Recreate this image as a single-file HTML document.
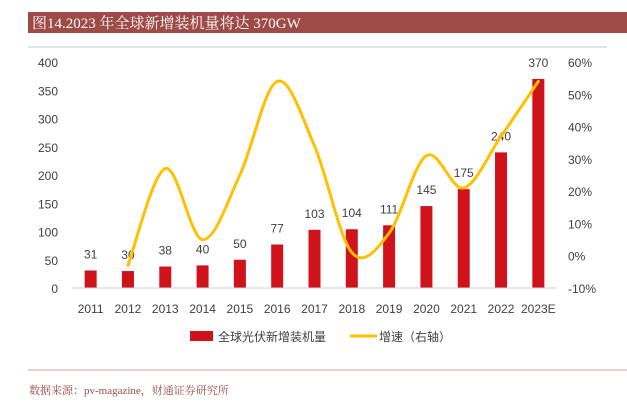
<!DOCTYPE html>
<html><head><meta charset="utf-8">
<style>
body{margin:0;width:627px;height:409px;background:#fff;overflow:hidden;font-family:"Liberation Sans","Noto Sans CJK SC",sans-serif;}
</style></head>
<body>
<svg width="627" height="409" xmlns="http://www.w3.org/2000/svg">
<rect x="28" y="12" width="599" height="21" fill="#9e4a46"/>
<text x="32" y="28" font-size="15" fill="#fff" font-family="Liberation Serif,Noto Serif CJK SC,serif">图14.2023 年全球新增装机量将达 370GW</text>
<line x1="28" y1="47" x2="607" y2="47" stroke="#c8c8c8"/>
<g id="plot"></g>
<line x1="28" y1="370" x2="627" y2="370" stroke="#c9a0a0"/>
<text x="29" y="394" font-size="11" fill="#9e4a46" font-family="Liberation Serif,Noto Serif CJK SC,serif">数据来源：pv-magazine，财通证券研究所</text>
</svg>
<script>
const categories=["2011","2012","2013","2014","2015","2016","2017","2018","2019","2020","2021","2022","2023E"];
const capacity=[31,30,38,40,50,77,103,104,111,145,175,240,370];
const growth=[null,-3,27,5,25,54,34,1,7,31,21,37,54];
const leftTicks=[0,50,100,150,200,250,300,350,400];
const rightTicks=[-10,0,10,20,30,40,50,60];
const NS="http://www.w3.org/2000/svg";
const g=document.getElementById('plot');
const x0=72,x1=557,yb=288,yt=62;
const step=(x1-x0)/categories.length;
const xc=i=>x0+step*(i+0.5);
const yL=v=>yb-(v/400)*(yb-yt);
const yR=v=>yb-((v+10)/70)*(yb-yt);
function mk(t,a){const e=document.createElementNS(NS,t);for(const k in a)e.setAttribute(k,a[k]);g.appendChild(e);return e;}
leftTicks.forEach(v=>{const t=mk('text',{x:58,y:yL(v)+5,'text-anchor':'end','font-size':12,fill:'#404040'});t.textContent=v;

});
rightTicks.forEach(v=>{const t=mk('text',{x:568,y:yR(v)+5,'font-size':12,fill:'#404040'});t.textContent=v+'%';

});
capacity.forEach((v,i)=>{
const r=mk('rect',{x:xc(i)-6,y:yL(v),width:12,height:yb-yL(v),fill:'#d0121b'});


const t=mk('text',{x:xc(i),y:yL(v)-12,'text-anchor':'middle','font-size':12,fill:'#404040'});t.textContent=v;


const c=mk('text',{x:xc(i),y:313,'text-anchor':'middle','font-size':12,fill:'#404040'});c.textContent=categories[i];


});
const ax=mk('line',{x1:x0,y1:yb,x2:x1,y2:yb,stroke:'#d0d0d0'});


const pts=[];growth.forEach((v,i)=>{if(v!==null)pts.push([xc(i),yR(v)]);});
let d='M'+pts[0][0]+','+pts[0][1];
for(let i=0;i<pts.length-1;i++){const p0=pts[i-1]||pts[i],p1=pts[i],p2=pts[i+1],p3=pts[i+2]||p2;const k=1/6;
d+=` C${p1[0]+(p2[0]-p0[0])*k},${p1[1]+(p2[1]-p0[1])*k} ${p2[0]-(p3[0]-p1[0])*k},${p2[1]-(p3[1]-p1[1])*k} ${p2[0]},${p2[1]}`;}
const ln=mk('path',{d:d,fill:'none',stroke:'#ffc000','stroke-width':3,'stroke-linecap':'round'});


const lr=mk('rect',{x:190,y:331,width:23,height:10,fill:'#d0121b'});


const lt=mk('text',{x:218,y:341,'font-size':12,fill:'#404040'});lt.textContent='全球光伏新增装机量';


const ll=mk('line',{x1:350,y1:336,x2:377,y2:336,stroke:'#ffc000','stroke-width':3});


const lt2=mk('text',{x:379,y:341,'font-size':12,fill:'#404040'});lt2.textContent='增速（右轴）';


</script>
</body></html>
